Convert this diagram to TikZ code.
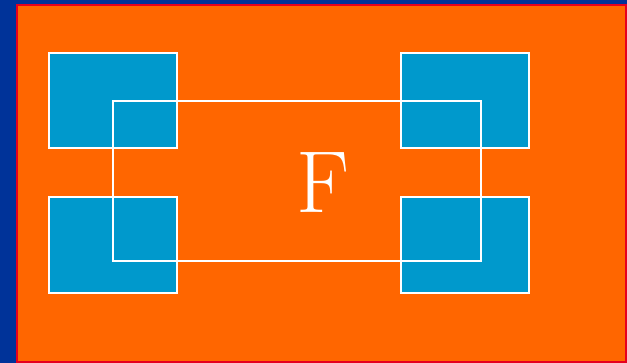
\documentclass[tikz,border=0pt]{standalone}
\definecolor{bgblue}{RGB}{0,51,153}
\definecolor{orng}{RGB}{255,102,0}
\definecolor{sqblue}{RGB}{0,153,204}
\definecolor{edgered}{RGB}{230,0,30}
\begin{document}
\begin{tikzpicture}[x=1pt,y=-1pt,
  sq/.style={fill=sqblue,draw=white,line width=1.5pt},
  frame/.style={draw=white,line width=1.5pt}]
\useasboundingbox (0,0) rectangle (627,363);
\fill[bgblue] (0,0) rectangle (627,363);
\draw[edgered,line width=2pt,fill=orng] (17,5) rectangle (625.5,362);
\draw[sq] (49,53) rectangle (177,148);
\draw[sq] (49,197) rectangle (177,293);
\draw[sq] (401,53) rectangle (529,148);
\draw[sq] (401,197) rectangle (529,293);
\draw[frame] (113,101) rectangle (481,261);
\node[text=white,anchor=base,inner sep=0pt,font=\fontsize{88}{88}\selectfont] (F) at (323,213) {F};
\end{tikzpicture}
\end{document}
